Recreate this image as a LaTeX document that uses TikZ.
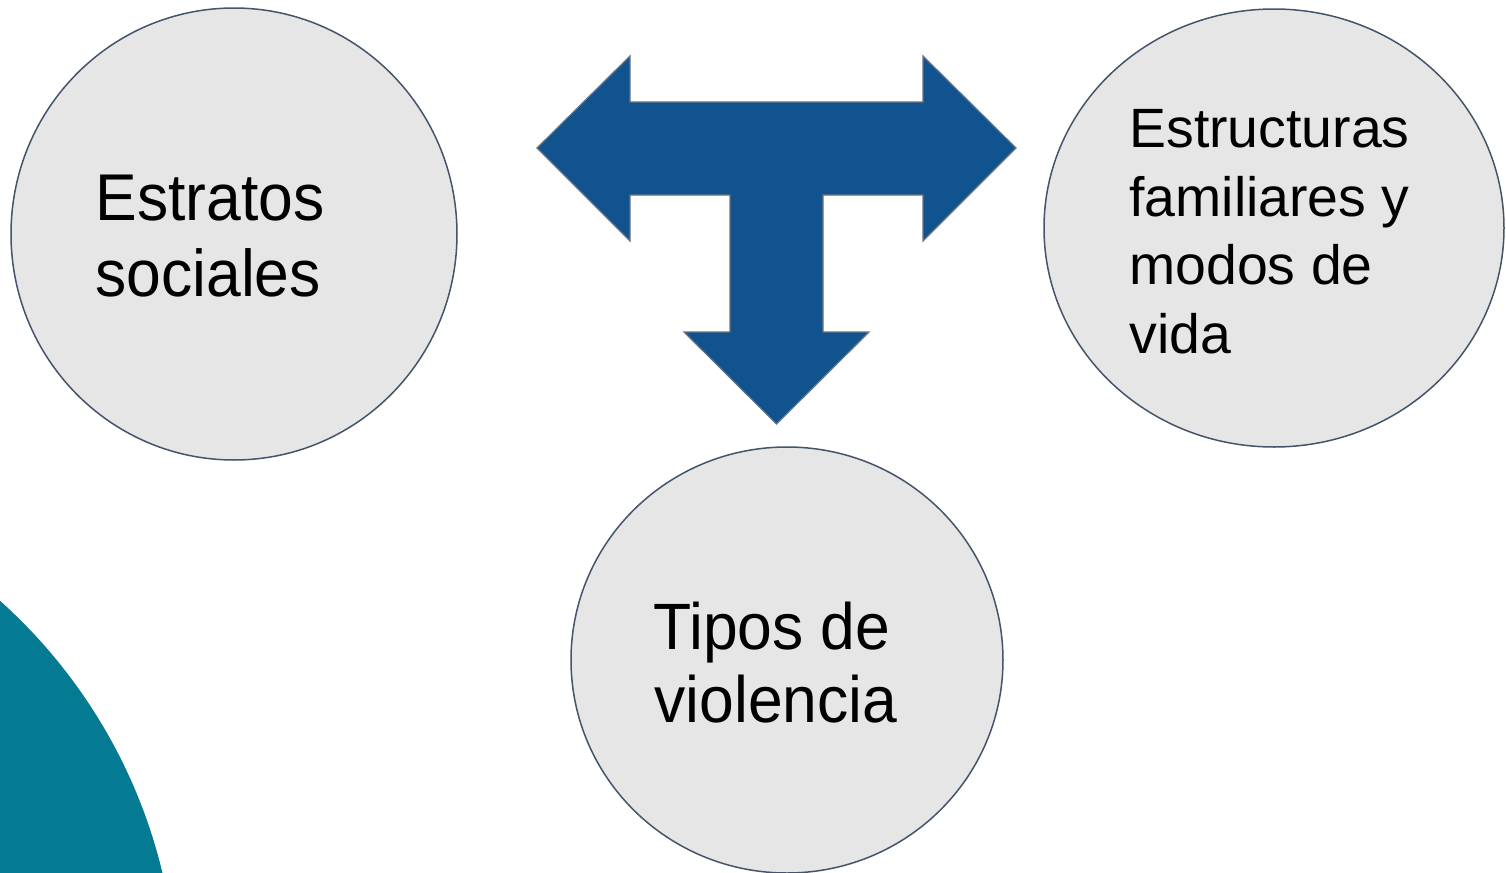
\documentclass[tikz,border=0pt]{standalone}
\usepackage{fontspec}
\setmainfont{Liberation Sans}
\usetikzlibrary{shapes.geometric}
\definecolor{circfill}{HTML}{E7E6E6}
\definecolor{circline}{HTML}{44546A}
\definecolor{arrowblue}{HTML}{10538F}
\definecolor{arrowline}{HTML}{6A7280}
\definecolor{tealshape}{HTML}{047A93}
\begin{document}
\begin{tikzpicture}[x=0.5pt,y=-0.5pt,
  bubble/.style={ellipse, draw=circline, line width=0.75pt, fill=circfill, inner sep=0pt},
  bigtxt/.style={anchor=base west, inner sep=0pt, font=\fontsize{31.2}{31.2}\selectfont},
  smalltxt/.style={anchor=base west, inner sep=0pt, font=\fontsize{27.7}{27.7}\selectfont},
  tarrow/.style={fill=arrowblue, draw=arrowline, line width=0.6pt, line join=miter}]
\useasboundingbox (0,0) rectangle (1506,873);
% teal corner shape
\begin{scope}
  \clip (0,0) rectangle (1506,873);
  \fill[tealshape] (-355,997) circle[radius=266pt];
\end{scope}
% circles
\node[bubble, minimum width=223pt, minimum height=226pt] (estratos) at (234,234) {};
\node[bubble, minimum width=230pt, minimum height=219pt] (estructuras) at (1274,228) {};
\node[bubble, minimum width=216pt, minimum height=213pt] (tipos) at (787,660) {};
% T-shaped three-way arrow
\draw[tarrow] (537,148) -- (630,56) -- (630,102) -- (923,102) -- (923,56)
  -- (1016,148) -- (923,241) -- (923,195) -- (823,195) -- (823,332)
  -- (869,332) -- (776.5,424) -- (684,332) -- (730,332) -- (730,195)
  -- (630,195) -- (630,241) -- cycle;
% texts
\node[bigtxt] (e1) at (95,220) {\scalebox{1}[1.06]{Estratos}};
\node[bigtxt] (e2) at (95,296) {\scalebox{1}[1.06]{sociales}};
\node[smalltxt] (f1) at (1129,147) {Estructuras};
\node[smalltxt] (f2) at (1129,216) {familiares y};
\node[smalltxt] (f3) at (1129,284) {modos de};
\node[smalltxt] (f4) at (1129,353) {vida};
\node[bigtxt] (t1) at (653,649) {\scalebox{1}[1.05]{Tipos de}};
\node[bigtxt] (t2) at (654,722) {\scalebox{1}[1.05]{violencia}};
\end{tikzpicture}
\end{document}
